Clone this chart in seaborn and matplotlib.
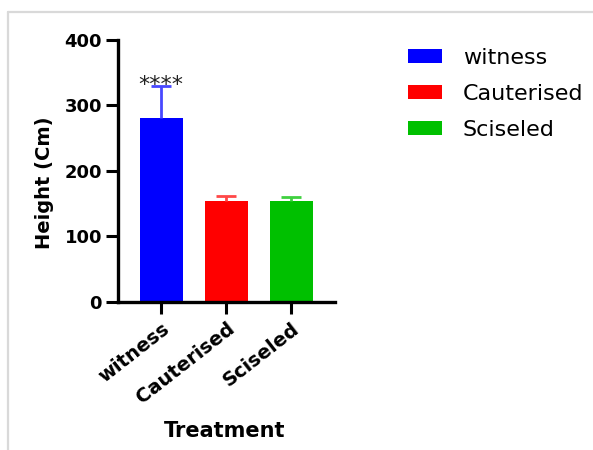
import matplotlib
matplotlib.use("Agg")
import matplotlib.pyplot as plt
from matplotlib.patches import Patch
from matplotlib.lines import Line2D
import seaborn as sns

categories = ["witness", "Cauterised", "Sciseled"]
means = [280, 154, 154]
sds = [50, 8, 6]
stars = ["****", "", ""]
colors = ["#0000FF", "#FF0000", "#00C000"]
err_colors = ["#4848FF", "#FF4848", "#40D040"]

sns.set_style("white")
plt.rcParams["font.family"] = ["DejaVu Sans"]
plt.rcParams["text.color"] = "black"
plt.rcParams["xtick.color"] = "black"
plt.rcParams["ytick.color"] = "black"
plt.rcParams["axes.labelcolor"] = "black"

fig = plt.figure(figsize=(5.93, 4.5), dpi=100)
ax = fig.add_axes([0.199, 0.329, 0.366, 0.583])

sns.barplot(x=categories, y=means, hue=categories, palette=colors,
            saturation=1, width=0.66, legend=False, linewidth=0, ax=ax)

for i, (m, s) in enumerate(zip(means, sds)):
    eb = ax.errorbar(i, m, yerr=[[0], [s]], color=err_colors[i], capsize=7.5,
                     elinewidth=2.0, capthick=2.0, zorder=1)
    eb[1][0].set_visible(False)  # no cap at the bottom end
    if stars[i]:
        ax.text(i, m + s - 8, stars[i], ha="center", va="baseline",
                fontsize=16, color="#222222")

ax.set_xlim(-0.66, 2.67)
ax.set_ylim(0, 400)
ax.set_yticks([0, 100, 200, 300, 400])
sns.despine(ax=ax)
for side in ["left", "bottom"]:
    ax.spines[side].set_linewidth(2.4)
    ax.spines[side].set_color("black")
ax.tick_params(axis="both", direction="out", width=2.2, length=8.5,
               color="black", left=True, bottom=True)
ax.tick_params(axis="y", labelsize=13, pad=3)
ax.tick_params(axis="x", labelsize=14, pad=4)
for lab in ax.get_yticklabels():
    lab.set_fontweight("bold")
for lab in ax.get_xticklabels():
    lab.set_fontweight("bold")
    lab.set_rotation(38)
    lab.set_ha("right")
    lab.set_rotation_mode("anchor")

ax.set_xlabel("Treatment", fontsize=15, fontweight="bold")
ax.xaxis.set_label_coords(0.493, -0.452)
ax.set_ylabel("Height (Cm)", fontsize=14, fontweight="bold")
ax.yaxis.set_label_coords(-0.295, 0.453)

handles = [Patch(facecolor=c, edgecolor="none") for c in colors]
fig.legend(handles, categories, loc="upper left",
           bbox_to_anchor=(408 / 593, 1 - 48 / 450), frameon=False,
           fontsize=16, handlelength=1.53, handleheight=0.57,
           handletextpad=0.93, labelspacing=0.72, borderpad=0,
           borderaxespad=0)

# light grey frame of the original screenshot
fig.add_artist(Line2D([8 / 593, 1], [1 - 12 / 450, 1 - 12 / 450],
                      transform=fig.transFigure, color="#d9d9d9", lw=1.6))
fig.add_artist(Line2D([8 / 593, 8 / 593], [0, 1 - 12 / 450],
                      transform=fig.transFigure, color="#d9d9d9", lw=1.6))

fig.savefig("out.png", dpi=100)
